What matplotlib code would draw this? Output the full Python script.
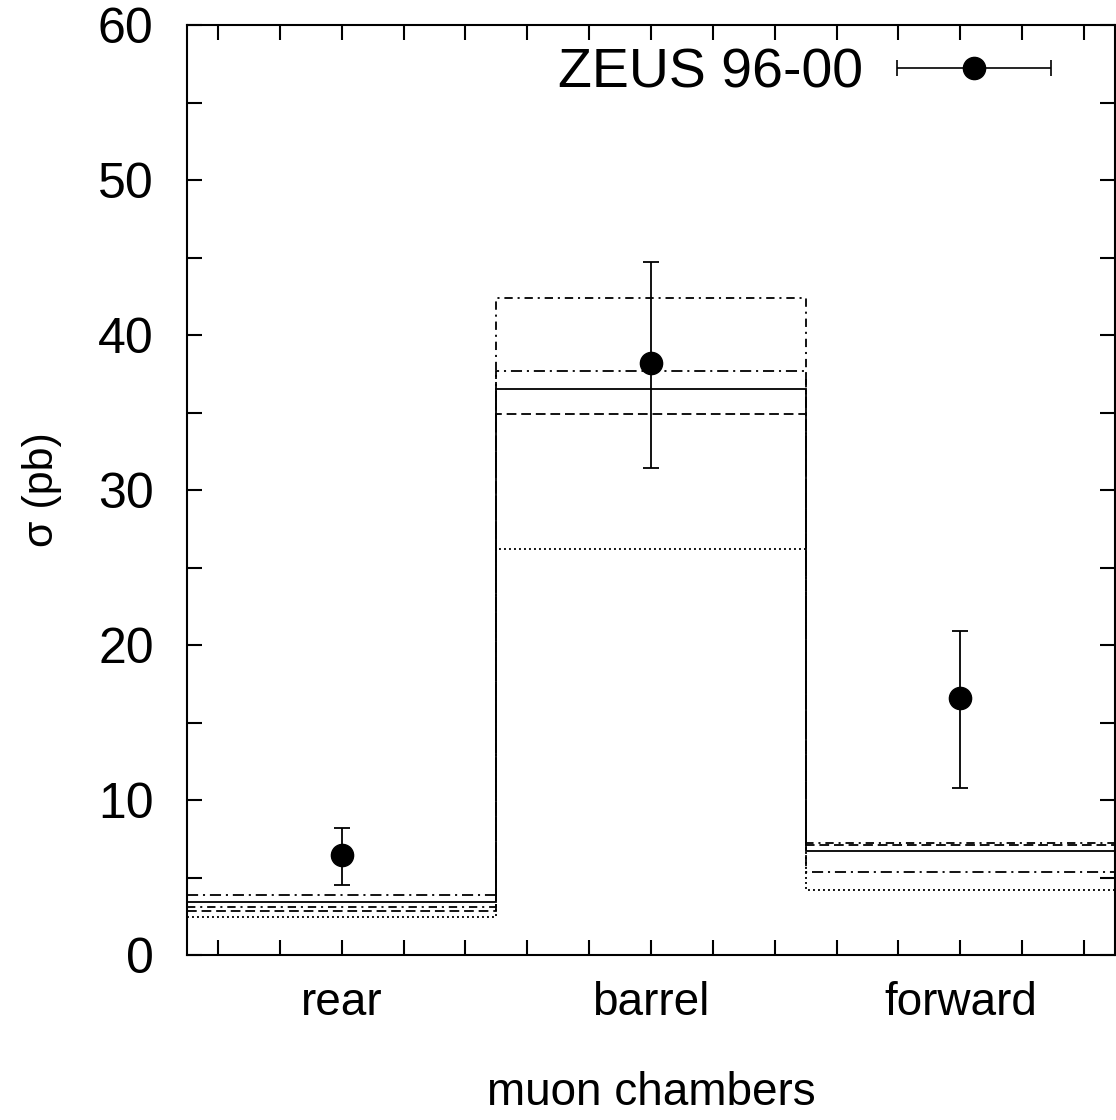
import numpy as np
import matplotlib
matplotlib.use("Agg")
import matplotlib.pyplot as plt
from matplotlib.container import ErrorbarContainer
from matplotlib.legend_handler import HandlerErrorbar

plt.rcParams.update({
    "font.family": ["Liberation Sans", "DejaVu Sans"],
    "lines.scale_dashes": False,
})

# ── Data ─────────────────────────────────────────────────────────────────────
chambers = ["rear", "barrel", "forward"]
edges = [0, 1, 2, 3]
centers = [0.5, 1.5, 2.5]

zeus_sigma = [6.45, 38.2, 16.6]
zeus_err_up = [1.75, 6.5, 4.3]
zeus_err_dn = [1.95, 6.8, 5.8]

# model predictions (pb) per chamber
model_solid   = [3.4, 36.5, 6.7]
model_dashed  = [2.86, 34.9, 7.1]
model_dotted  = [2.47, 26.2, 4.2]
model_dashdot = [3.9, 37.7, 5.37]
model_dashdot2 = [3.1, 42.4, 7.2]

# ── Figure ───────────────────────────────────────────────────────────────────
fig = plt.figure(figsize=(11.16, 11.2), dpi=100)
ax = fig.add_axes([187/1116, 165/1120, 928/1116, 930/1120])

lw = 1.3
ax.stairs(model_dotted, edges, baseline=None, color="black", lw=lw, ls=(0, (1.4, 2.2)))
ax.stairs(model_dashed, edges, baseline=None, color="black", lw=lw, ls=(0, (7, 3.5)))
ax.stairs(model_dashdot2, edges, baseline=None, color="black", lw=lw, ls=(0, (6, 3.5, 1.5, 3.5)))
ax.stairs(model_dashdot, edges, baseline=None, color="black", lw=lw, ls=(0, (8, 3.5, 1.5, 3.5)))
ax.stairs(model_solid, edges, baseline=None, color="black", lw=lw, ls="-")

ax.errorbar(centers, zeus_sigma, yerr=[zeus_err_dn, zeus_err_up], fmt="o",
            color="black", ms=16, elinewidth=1.3, capsize=6, capthick=1.3, zorder=5)

# legend proxy with horizontal error bar (gnuplot style)
proxy = ax.errorbar([np.nan], [np.nan], xerr=[1], fmt="o", color="black",
                    ms=16, elinewidth=1.2, capsize=6, capthick=1.2)
ax.legend(handles=[proxy], labels=["ZEUS 96-00"], loc="upper right",
          bbox_to_anchor=(0.932, 0.976), frameon=False, markerfirst=False,
          fontsize=40, handlelength=2.8, handletextpad=0.6, borderpad=0,
          borderaxespad=0,
          handler_map={ErrorbarContainer: HandlerErrorbar(xerr_size=1.38)})

ax.set_xlim(0, 3)
ax.set_ylim(0, 60)

xt = np.arange(0.1, 3.0, 0.2)
ax.set_xticks(xt)
ax.set_xticklabels([chambers[centers.index(round(t, 1))] if round(t, 1) in centers else ""
                    for t in xt], fontsize=33)
ax.set_yticks(np.arange(0, 61, 10))
ax.set_yticks(np.arange(5, 60, 10), minor=True)
ax.tick_params(axis="y", labelsize=36)
ax.tick_params(which="both", direction="in", top=True, right=True,
               length=11, width=1.5)
ax.tick_params(axis="x", pad=19)
ax.tick_params(axis="y", pad=24)

for s in ax.spines.values():
    s.set_linewidth(1.5)

ax.set_xlabel("muon chambers", fontsize=33, labelpad=33)
ax.set_ylabel("σ (pb)", fontsize=31, labelpad=26)

plt.savefig("out.png", dpi=100)
plt.close()
